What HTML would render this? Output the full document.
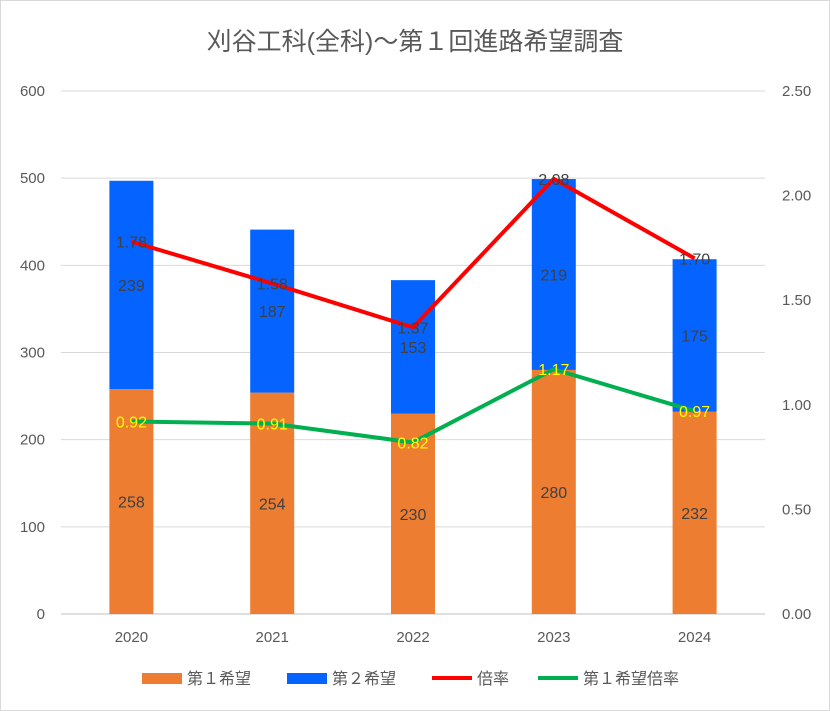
<!DOCTYPE html>
<html><head><meta charset="utf-8"><style>
body{margin:0;background:#fff;}
svg{display:block;font-family:"Liberation Sans","Noto Sans CJK JP",sans-serif;}
</style></head><body>
<svg id="c" width="830" height="711">
<rect x="0.5" y="0.5" width="829" height="710" fill="#fff" stroke="#d9d9d9"/>
<text x="415" y="50" text-anchor="middle" font-size="25" fill="#595959">刈谷工科(全科)～第１回進路希望調査</text>
<g id="grid"></g><g id="bars"></g><g id="lines"></g><g id="labels"></g><g id="axes"></g>
<g id="legend">
<rect x="142" y="673" width="40" height="11" fill="#ED7D31"/>
<text x="187" y="684" font-size="16" fill="#595959">第１希望</text>
<rect x="287" y="673" width="40" height="11" fill="#0563FF"/>
<text x="332" y="684" font-size="16" fill="#595959">第２希望</text>
<line x1="432" y1="678" x2="472" y2="678" stroke="#FF0000" stroke-width="4"/>
<text x="477" y="684" font-size="16" fill="#595959">倍率</text>
<line x1="538" y1="678" x2="578" y2="678" stroke="#00B050" stroke-width="4"/>
<text x="583" y="684" font-size="16" fill="#595959">第１希望倍率</text>
</g>
</svg>
<script>
const categories=["2020","2021","2022","2023","2024"];
const firstChoice=[258,254,230,280,232];
const secondChoice=[239,187,153,219,175];
const ratio=[1.78,1.58,1.37,2.08,1.70];
const firstRatio=[0.92,0.91,0.82,1.17,0.97];
const leftTicks=[0,100,200,300,400,500,600];
const rightTicks=["0.00","0.50","1.00","1.50","2.00","2.50"];
const NS="http://www.w3.org/2000/svg";
const X0=61,X1=765,Y0=614,Y1=91;
const yL=v=>Y0-(v/600)*(Y0-Y1);
const yR=v=>Y0-(v/2.5)*(Y0-Y1);
const bw=(X1-X0)/categories.length;
const xC=i=>X0+bw*(i+0.5);
function mk(tag,attrs,parent,txt){const e=document.createElementNS(NS,tag);for(const k in attrs)e.setAttribute(k,attrs[k]);if(txt!==undefined)e.textContent=txt;document.getElementById(parent).appendChild(e);return e;}
leftTicks.forEach(t=>{
 const g=mk('line',{x1:X0,x2:X1,y1:yL(t),y2:yL(t),stroke:t===0?'#bfbfbf':'#d9d9d9','stroke-width':1},'grid');
 
 
 const l=mk('text',{x:45,y:yL(t)+5,'text-anchor':'end','font-size':15,fill:'#595959'},'axes',String(t));
 
 
});
rightTicks.forEach(t=>{
 const l=mk('text',{x:782,y:yR(parseFloat(t))+5,'font-size':15,fill:'#595959'},'axes',t);
 
 
});
categories.forEach((c,i)=>{
 const l=mk('text',{x:xC(i),y:642,'text-anchor':'middle','font-size':15,fill:'#595959'},'axes',c);
 
 
 const a=firstChoice[i],b=secondChoice[i];
 const r1=mk('rect',{x:xC(i)-22,width:44,y:yL(a),height:Y0-yL(a),fill:'#ED7D31'},'bars');
 
 
 const r2=mk('rect',{x:xC(i)-22,width:44,y:yL(a+b),height:yL(a)-yL(a+b),fill:'#0563FF'},'bars');
 
 
 const t1=mk('text',{x:xC(i),y:(Y0+yL(a))/2+6,'text-anchor':'middle','font-size':16,fill:'#404040'},'labels',String(a));
 
 
 const t2=mk('text',{x:xC(i),y:(yL(a)+yL(a+b))/2+6,'text-anchor':'middle','font-size':16,fill:'#404040'},'labels',String(b));
 
 
});
function line(arr,color,name,lblColor){
 const p=mk('polyline',{points:arr.map((v,i)=>xC(i)+','+yR(v)).join(' '),fill:'none',stroke:color,'stroke-width':4,'stroke-linejoin':'round'},'lines');
 
 
 arr.forEach((v,i)=>{
  const t=mk('text',{x:xC(i),y:yR(v)+6,'text-anchor':'middle','font-size':16,fill:lblColor},'labels',v.toFixed(2));
  
  
 });
}
line(ratio,'#FF0000','ratio-line','#404040');
line(firstRatio,'#00B050','first-ratio-line','#FFFF00');
</script>
</body></html>
